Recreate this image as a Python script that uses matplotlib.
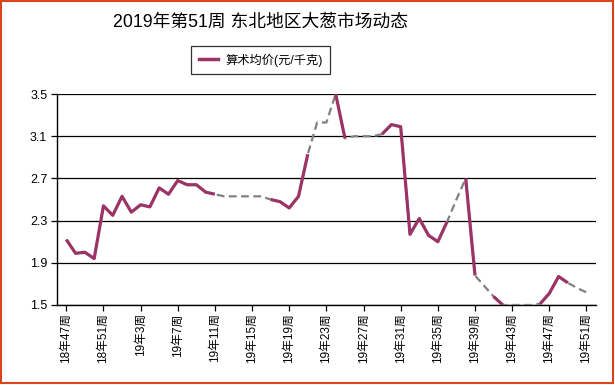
import matplotlib
matplotlib.use("Agg")
import matplotlib.pyplot as plt
import numpy as np
from matplotlib.patches import Rectangle
from matplotlib.lines import Line2D

plt.rcParams['font.family'] = ['Liberation Sans', 'Noto Sans CJK SC', 'DejaVu Sans']

# week categories: 2018 w47..w52, 2019 w1..w51
years = [18] * 6 + [19] * 51
weeks = list(range(47, 53)) + list(range(1, 52))
labels = [f"{y}年{w}周" for y, w in zip(years, weeks)]

# average price (yuan/kg)
price = [2.12, 1.99, 2.00, 1.94, 2.44, 2.35,
         2.53, 2.38, 2.45, 2.43, 2.61, 2.55, 2.68, 2.64, 2.64, 2.57,
         2.55, 2.53, 2.53, 2.53, 2.53, 2.53, 2.50, 2.48, 2.42, 2.53,
         2.93, 3.23, 3.23, 3.50, 3.08, 3.10, 3.10, 3.10, 3.12, 3.21,
         3.19, 2.17, 2.32, 2.16, 2.10, 2.29, 2.50, 2.70, 1.78, 1.68,
         1.58, 1.50, 1.50, 1.50, 1.50, 1.51, 1.61, 1.77, 1.71, 1.66,
         1.62]

# weeks without a reported price (drawn as dashed gap filler)
missing = [17, 18, 19, 20, 21, 27, 28, 31, 32, 33, 42, 45, 48, 49, 50, 55]

x = np.arange(len(price))
y = np.array(price)
solid = y.copy()
solid[missing] = np.nan

fig = plt.figure(figsize=(6.15, 3.85), dpi=100)
ax = fig.add_axes([0.0927, 0.2078, 0.876, 0.548])

ax.plot(x, y, color="#808080", lw=1.6, ls=(0, (3.5, 2)), zorder=3)
ax.plot(x, solid, color="#9b3466", lw=2.3, solid_capstyle="butt", zorder=4)

ax.set_xlim(-1, 57)
ax.set_ylim(1.5, 3.5)
ax.set_yticks([1.5, 1.9, 2.3, 2.7, 3.1, 3.5])
ax.set_yticklabels(["1.5", "1.9", "2.3", "2.7", "3.1", "3.5"])
ax.grid(axis="y", color="black", lw=0.9)
ax.set_axisbelow(True)

ticks = x[::4]
ax.set_xticks(ticks)
ax.set_xticklabels([labels[i] for i in ticks], rotation=90, fontsize=8.5)
ax.tick_params(axis="x", length=4, width=0.9, pad=2)
ax.tick_params(axis="y", length=4, width=0.9, labelsize=9, pad=3)

for s in ["top", "right"]:
    ax.spines[s].set_visible(False)
for s in ["left", "bottom"]:
    ax.spines[s].set_linewidth(1.0)

fig.text(0.423, 0.943, "2019年第51周 东北地区大葱市场动态",
         ha="center", va="center", fontsize=12.8)

handle = Line2D([], [], color="#9b3466", lw=2.5)
leg = fig.legend([handle], ["算术均价(元/千克)"], loc="center",
                 bbox_to_anchor=(0.424, 0.844), fontsize=8.8,
                 frameon=True, fancybox=False, handlelength=1.6,
                 borderpad=0.6, handletextpad=0.6)
leg.get_frame().set_edgecolor("black")
leg.get_frame().set_linewidth(0.9)

fig.patches.append(Rectangle((0.001, 0.004), 0.995, 0.994, transform=fig.transFigure,
                             fill=False, edgecolor="#d9441a", lw=1.5))

fig.savefig("out.png", dpi=100)
